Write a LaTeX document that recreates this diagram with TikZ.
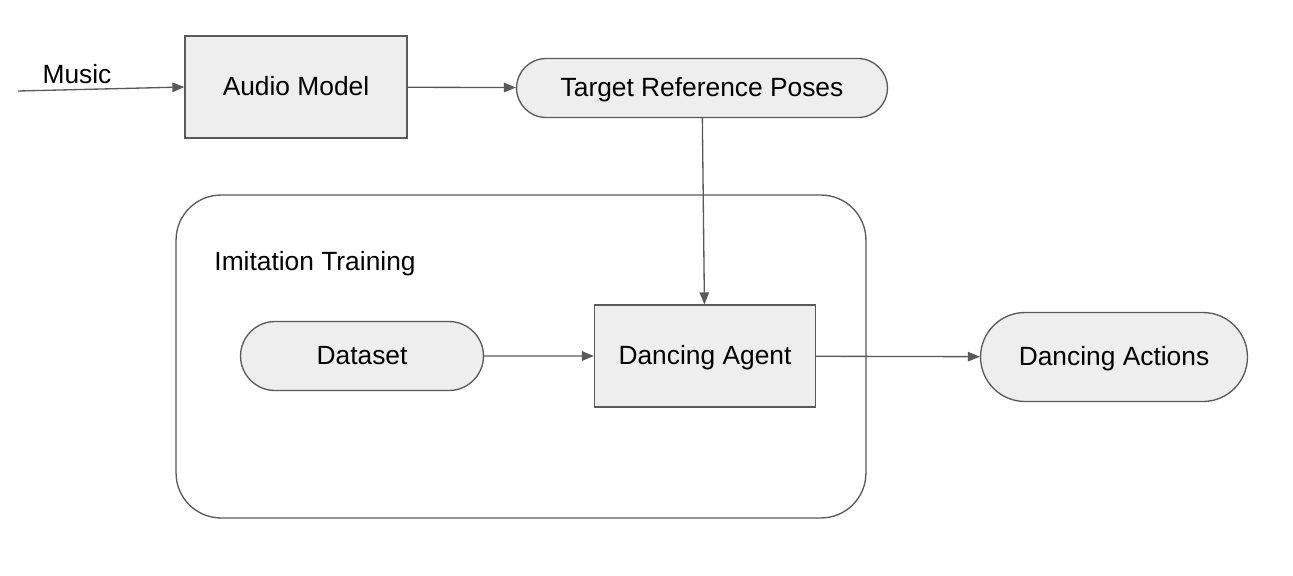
\documentclass[tikz,border=0pt]{standalone}
\usepackage{fontspec}
\setmainfont{Liberation Sans}
\usepackage{xcolor}
\usepackage{tikz}
\usetikzlibrary{shapes.misc, arrows.meta}

\definecolor{boxfill}{HTML}{EEEEEE}
\definecolor{boxline}{HTML}{595959}

\begin{document}
\begin{tikzpicture}[
        x=0.02cm, y=-0.02cm, % one unit = one pixel of the sketch
        >={Triangle[length=0.24cm, width=0.19cm]},
        font=\fontsize{15}{18}\selectfont,
        % --- Shapes used in the pipeline ---
        block/.style={
            draw=boxline, fill=boxfill, line width=0.75pt,
            rectangle, inner sep=2pt,
            text height=1em, text depth=0pt
        },
        pill/.style={
            draw=boxline, fill=boxfill, line width=0.75pt,
            rounded rectangle, inner sep=2pt,
            text height=1em, text depth=0pt
        },
        stage/.style={
            draw=boxline, line width=0.75pt,
            rectangle, rounded corners=0.9cm
        },
        every edge/.style={draw=boxline, line width=0.75pt, ->}
    ]
    \useasboundingbox (0,0) rectangle (1293,575);

    % ==================== 1. TOP ROW ====================
    \node (music) at (77,74) {Music};
    \coordinate (musicin) at (18,91);
    \node[block, minimum width=4.44cm, minimum height=2.04cm] (audio) at (296,87) {Audio Model};
    \node[pill, minimum width=7.56cm, minimum height=1.18cm] (poses) at (702,88) {Target Reference Poses};

    % ==================== 2. TRAINING STAGE ====================
    \node[stage, minimum width=13.8cm, minimum height=6.46cm] (imitation) at (521,356.5) {};
    \node (imitlabel) at (315,264) {Imitation Training};
    \node[pill, minimum width=5.0cm, minimum height=1.38cm] (dataset) at (362,356) {Dataset};
    \node[block, minimum width=4.42cm, minimum height=2.04cm] (agent) at (705,356) {Dancing Agent};

    % ==================== 3. OUTPUT ====================
    \node[pill, minimum width=5.48cm, minimum height=1.78cm] (actions) at (1114,357) {Dancing Actions};

    \path
        (musicin) edge (audio.west)
        (audio)   edge (poses)
        (poses)   edge (agent)
        (dataset) edge (agent)
        (agent)   edge (actions);

\end{tikzpicture}
\end{document}
